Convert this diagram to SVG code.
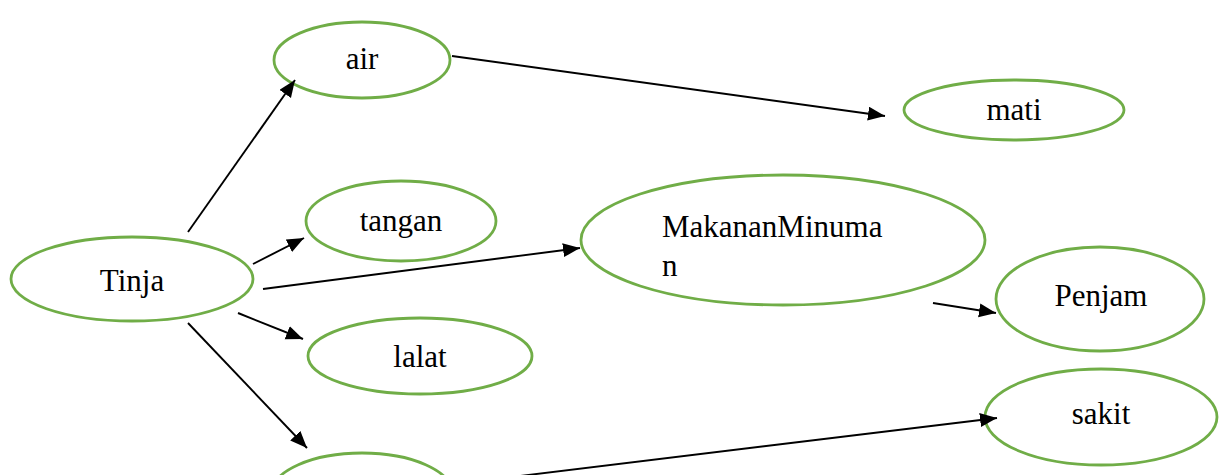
<svg xmlns="http://www.w3.org/2000/svg" width="1219" height="475" viewBox="0 0 1219 475">
<style>
.n ellipse{fill:#fff;stroke:#70AD47;stroke-width:2.8}
.n text{font-family:'Liberation Serif','Times New Roman',serif;font-size:31px;fill:#000}
.c line{stroke:#000;stroke-width:1.9;marker-end:url(#ah)}
</style>
<defs>
<marker id="ah" markerUnits="userSpaceOnUse" markerWidth="20" markerHeight="16" refX="17" refY="7" orient="auto">
<path d="M0,0 L17,7 L0,14 Z" fill="#000"/>
</marker>
</defs>
<rect width="1219" height="475" fill="#fff"/>
<g id="air" class="n"><ellipse cx="362" cy="60" rx="88" ry="38"/><text x="362" y="69" text-anchor="middle">air</text></g>
<g id="mati" class="n"><ellipse cx="1014" cy="110" rx="110" ry="30"/><text x="1014" y="120" text-anchor="middle">mati</text></g>
<g id="tangan" class="n"><ellipse cx="401" cy="221" rx="95" ry="40"/><text x="401" y="231" text-anchor="middle">tangan</text></g>
<g id="tinja" class="n"><ellipse cx="132" cy="279" rx="121" ry="42"/><text x="132" y="291" text-anchor="middle">Tinja</text></g>
<g id="makanan" class="n"><ellipse cx="783" cy="240" rx="202" ry="65"/><text x="662" y="237">MakananMinuma</text><text x="662" y="276">n</text></g>
<g id="penjam" class="n"><ellipse cx="1100" cy="299" rx="104" ry="52"/><text x="1101" y="306" text-anchor="middle">Penjam</text></g>
<g id="lalat" class="n"><ellipse cx="420" cy="356" rx="112" ry="38"/><text x="420" y="367" text-anchor="middle">lalat</text></g>
<g id="sakit" class="n"><ellipse cx="1101" cy="417" rx="116" ry="48"/><text x="1101" y="424" text-anchor="middle">sakit</text></g>
<g id="bottom" class="n"><ellipse cx="362" cy="493" rx="90" ry="40"/></g>
<g id="connectors" class="c">
<line x1="188" y1="232" x2="295" y2="80"/>
<line x1="452" y1="56" x2="885" y2="116"/>
<line x1="253" y1="264" x2="304" y2="238"/>
<line x1="263" y1="289" x2="580" y2="248"/>
<line x1="238" y1="313" x2="303" y2="339"/>
<line x1="188" y1="323" x2="307" y2="448"/>
<line x1="933" y1="303" x2="996" y2="313"/>
<line x1="520" y1="476" x2="997" y2="418"/>
</g>
</svg>
